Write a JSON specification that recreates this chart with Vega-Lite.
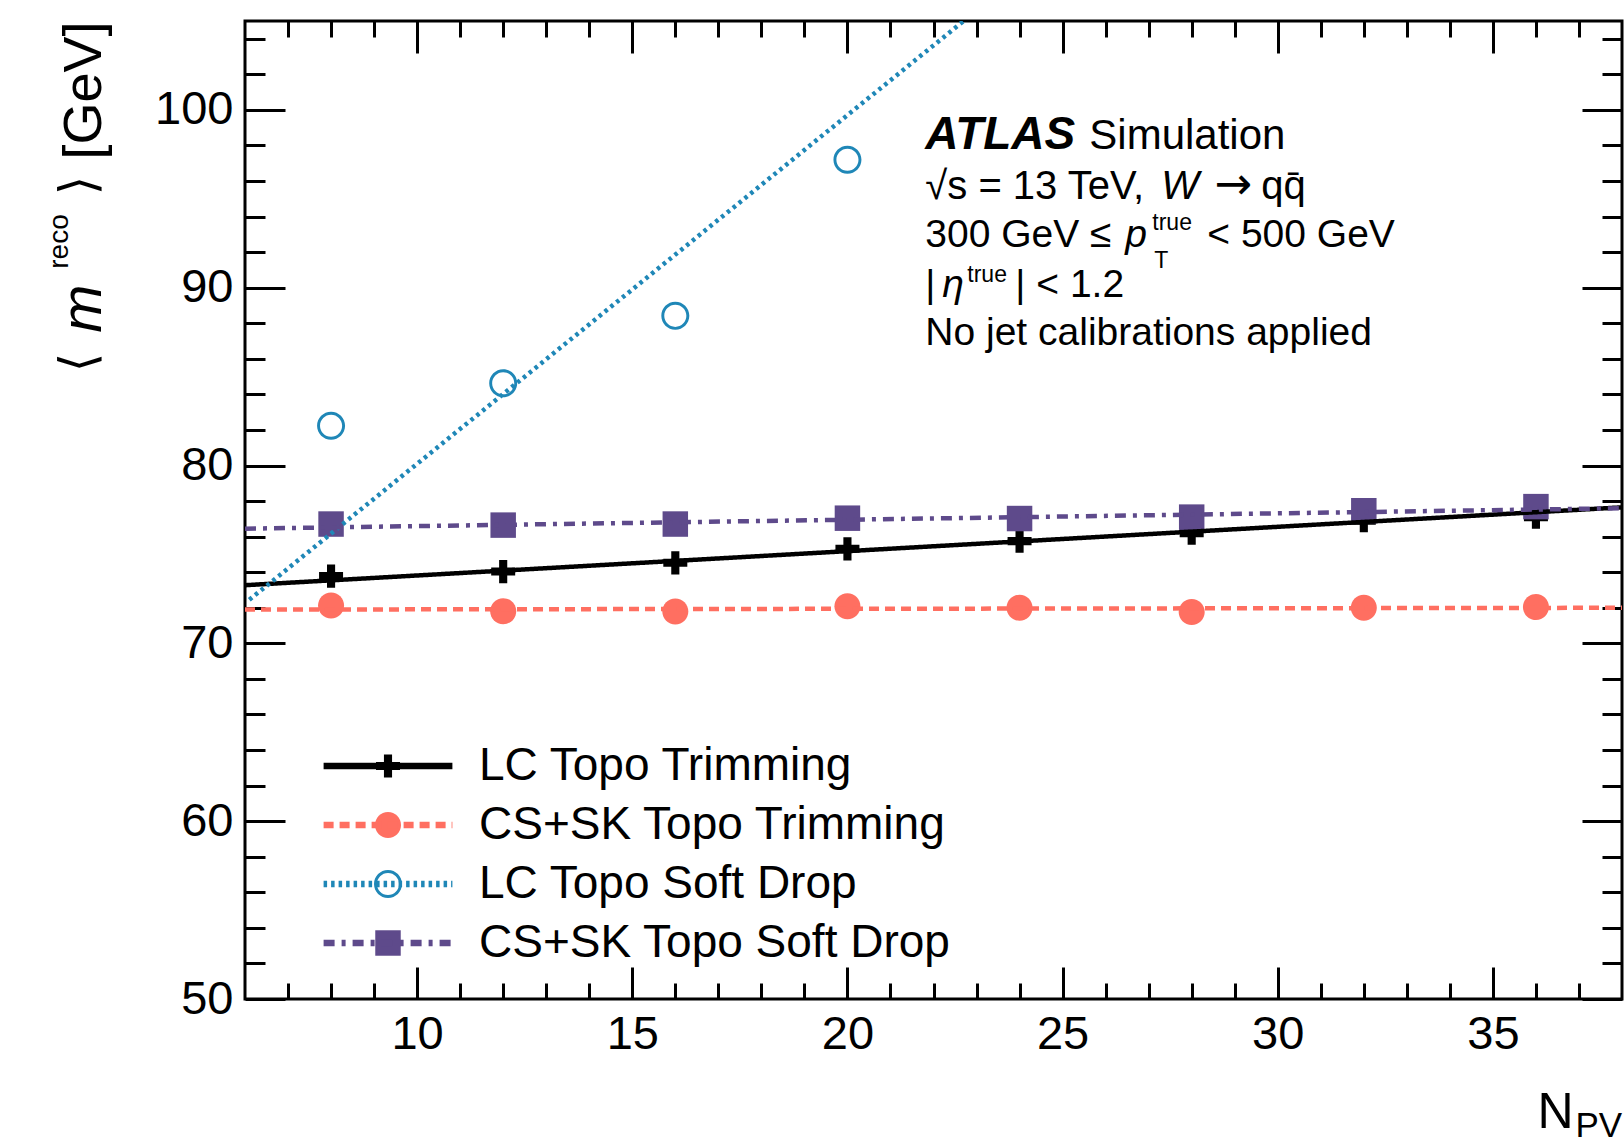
{
  "$schema": "https://vega.github.io/schema/vega-lite/v6.json",
  "width": 1377,
  "height": 978,
  "autosize": {"type": "none"},
  "padding": {"left": 245, "top": 21, "right": 2, "bottom": 143},
  "background": "white",
  "datasets": {
    "points": [
      {"series": "LC Topo Trimming", "npv": 8, "mass": 73.78},
      {"series": "LC Topo Trimming", "npv": 12, "mass": 74.04},
      {"series": "LC Topo Trimming", "npv": 16, "mass": 74.53},
      {"series": "LC Topo Trimming", "npv": 20, "mass": 75.32},
      {"series": "LC Topo Trimming", "npv": 24, "mass": 75.75},
      {"series": "LC Topo Trimming", "npv": 28, "mass": 76.2},
      {"series": "LC Topo Trimming", "npv": 32, "mass": 76.9},
      {"series": "LC Topo Trimming", "npv": 36, "mass": 77.1},
      {"series": "CS+SK Topo Trimming", "npv": 8, "mass": 72.13},
      {"series": "CS+SK Topo Trimming", "npv": 12, "mass": 71.81},
      {"series": "CS+SK Topo Trimming", "npv": 16, "mass": 71.79},
      {"series": "CS+SK Topo Trimming", "npv": 20, "mass": 72.09},
      {"series": "CS+SK Topo Trimming", "npv": 24, "mass": 72.0},
      {"series": "CS+SK Topo Trimming", "npv": 28, "mass": 71.76},
      {"series": "CS+SK Topo Trimming", "npv": 32, "mass": 72.0},
      {"series": "CS+SK Topo Trimming", "npv": 36, "mass": 72.04},
      {"series": "LC Topo Soft Drop", "npv": 8, "mass": 82.24},
      {"series": "LC Topo Soft Drop", "npv": 12, "mass": 84.63},
      {"series": "LC Topo Soft Drop", "npv": 16, "mass": 88.42},
      {"series": "LC Topo Soft Drop", "npv": 20, "mass": 97.2},
      {"series": "CS+SK Topo Soft Drop", "npv": 8, "mass": 76.71},
      {"series": "CS+SK Topo Soft Drop", "npv": 12, "mass": 76.65},
      {"series": "CS+SK Topo Soft Drop", "npv": 16, "mass": 76.71},
      {"series": "CS+SK Topo Soft Drop", "npv": 20, "mass": 77.04},
      {"series": "CS+SK Topo Soft Drop", "npv": 24, "mass": 77.02},
      {"series": "CS+SK Topo Soft Drop", "npv": 28, "mass": 77.1},
      {"series": "CS+SK Topo Soft Drop", "npv": 32, "mass": 77.46},
      {"series": "CS+SK Topo Soft Drop", "npv": 36, "mass": 77.69}
    ],
    "fits": [
      {"series": "LC Topo Trimming", "npv": 6, "mass": 73.27},
      {"series": "LC Topo Trimming", "npv": 38, "mass": 77.65},
      {"series": "CS+SK Topo Trimming", "npv": 6, "mass": 71.9},
      {"series": "CS+SK Topo Trimming", "npv": 38, "mass": 72.0},
      {"series": "LC Topo Soft Drop", "npv": 6.1, "mass": 72.45},
      {"series": "LC Topo Soft Drop", "npv": 22.7, "mass": 105},
      {"series": "CS+SK Topo Soft Drop", "npv": 6, "mass": 76.45},
      {"series": "CS+SK Topo Soft Drop", "npv": 38, "mass": 77.6}
    ]
  },
  "layer": [
    {
      "data": {"name": "points"},
      "mark": {"type": "point", "filled": true, "opacity": 1, "size": 784, "strokeWidth": 0},
      "encoding": {
        "x": {"field": "npv", "type": "quantitative", "scale": {"domain": [6, 38], "nice": false, "zero": false},
          "axis": {"orient": "bottom", "values": [10, 15, 20, 25, 30, 35], "tickSize": -32, "labelPadding": 44, "labelBaseline": "top", "labelAlign": "center",
            "title": "N", "titleFontSize": 50, "titleAngle": 0, "titleAlign": "right", "titleBaseline": "alphabetic", "titleX": 1328, "titleY": 128}},
        "y": {"field": "mass", "type": "quantitative", "scale": {"domain": [50, 105], "nice": false, "zero": false},
          "axis": {"orient": "left", "values": [50, 60, 70, 80, 90, 100], "tickSize": -40, "labelPadding": 52, "labelAlign": "right", "labelBaseline": "middle",
            "title": "[GeV]", "titleFontSize": 54, "titleAngle": -90, "titleAlign": "right", "titleBaseline": "alphabetic", "titleX": -145, "titleY": 0}},
        "fill": {"field": "series", "type": "nominal", "sort": null,
          "scale": {"range": ["#000000", "#ff6f61", "#1f87b7", "#5e4a8b"]},
          "legend": {"orient": "none", "legendX": 120, "legendY": 722, "title": null, "symbolSize": 784, "symbolStrokeWidth": 0, "symbolOpacity": 1,
            "labelExpr": "''", "labelFontSize": 46, "rowPadding": 13, "padding": 0, "labelOffset": 0}},
        "shape": {"field": "series", "type": "nominal", "sort": null,
          "scale": {"range": [
            "M-0.857,-0.29L0.857,-0.29L0.857,0.29L-0.857,0.29Z M-0.29,-0.83L0.29,-0.83L0.29,0.83L-0.29,0.83Z",
            "M0.93,0A0.93,0.93,0,1,1,-0.93,0A0.93,0.93,0,1,1,0.93,0Z",
            "M1,0A1,1,0,1,1,-1,0A1,1,0,1,1,1,0Z M0.79,0A0.79,0.79,0,1,0,-0.79,0A0.79,0.79,0,1,0,0.79,0Z",
            "M-0.91,-0.91L0.91,-0.91L0.91,0.91L-0.91,0.91Z"
          ]}}
      }
    },
    {
      "data": {"name": "fits"},
      "mark": {"type": "line", "strokeWidth": 4.5, "strokeCap": "butt", "clip": true},
      "encoding": {
        "x": {"field": "npv", "type": "quantitative", "scale": {"domain": [6, 38], "nice": false, "zero": false},
          "axis": {"orient": "bottom", "values": [7, 8, 9, 11, 12, 13, 14, 16, 17, 18, 19, 21, 22, 23, 24, 26, 27, 28, 29, 31, 32, 33, 34, 36, 37], "tickSize": -16, "labels": false,
            "title": "PV", "titleFontSize": 35, "titleAngle": 0, "titleAlign": "left", "titleBaseline": "alphabetic", "titleX": 1330, "titleY": 137}},
        "y": {"field": "mass", "type": "quantitative", "scale": {"domain": [50, 105], "nice": false, "zero": false},
          "axis": {"orient": "left", "values": [52, 54, 56, 58, 62, 64, 66, 68, 72, 74, 76, 78, 82, 84, 86, 88, 92, 94, 96, 98, 102, 104], "tickSize": -20, "labels": false,
            "title": "⟩", "titleFont": "DejaVu Sans", "titleFontSize": 50, "titleAngle": -90, "titleAlign": "center", "titleBaseline": "alphabetic", "titleX": -151, "titleY": 164}},
        "stroke": {"field": "series", "type": "nominal", "sort": null,
          "scale": {"range": ["#000000", "#ff6f61", "#1f87b7", "#5e4a8b"]},
          "legend": {"orient": "none", "legendX": 120, "legendY": 722, "title": null, "symbolType": "M-4.6,0L4.6,0", "symbolSize": 784, "symbolStrokeWidth": 6.5,
            "labelFont": "Liberation Sans", "labelFontSize": 46, "labelColor": "black", "labelOffset": 68, "labelLimit": 0, "rowPadding": 13, "padding": 0}},
        "strokeDash": {"field": "series", "type": "nominal", "sort": null,
          "scale": {"range": [[1, 0], [10, 6], [3.5, 4], [11, 7, 4, 7]]}}
      }
    },
    {
      "data": {"values": [{}]},
      "mark": {"type": "text", "text": "ATLAS", "fontSize": 46, "fontWeight": "bold", "fontStyle": "italic", "align": "left", "baseline": "alphabetic", "color": "black"},
      "encoding": {
        "x": {"datum": 21.81, "type": "quantitative", "scale": {"domain": [6, 38], "nice": false, "zero": false},
          "axis": {"orient": "top", "values": [10, 15, 20, 25, 30, 35], "tickSize": -32, "labels": false,
            "title": "⟨", "titleFont": "DejaVu Sans", "titleFontSize": 50, "titleAngle": -90, "titleAlign": "center", "titleBaseline": "alphabetic", "titleX": -151, "titleY": 341}},
        "y": {"datum": 97.8, "type": "quantitative", "scale": {"domain": [50, 105], "nice": false, "zero": false},
          "axis": {"orient": "right", "values": [50, 60, 70, 80, 90, 100], "tickSize": -40, "labels": false,
            "title": "reco", "titleFontSize": 28, "titleAngle": -90, "titleAlign": "center", "titleBaseline": "alphabetic", "titleX": -1555, "titleY": 220}}
      }
    },
    {
      "data": {"values": [{}]},
      "mark": {"type": "text", "text": "Simulation", "fontSize": 42, "align": "left", "baseline": "alphabetic", "dx": 164, "color": "black"},
      "encoding": {
        "x": {"datum": 21.81, "type": "quantitative", "scale": {"domain": [6, 38], "nice": false, "zero": false},
          "axis": {"orient": "top", "values": [7, 8, 9, 11, 12, 13, 14, 16, 17, 18, 19, 21, 22, 23, 24, 26, 27, 28, 29, 31, 32, 33, 34, 36, 37], "tickSize": -16, "labels": false, "title": null}},
        "y": {"datum": 97.8, "type": "quantitative", "scale": {"domain": [50, 105], "nice": false, "zero": false},
          "axis": {"orient": "right", "values": [52, 54, 56, 58, 62, 64, 66, 68, 72, 74, 76, 78, 82, 84, 86, 88, 92, 94, 96, 98, 102, 104], "tickSize": -20, "labels": false,
            "title": "m", "titleFontStyle": "italic", "titleFontSize": 58, "titleAngle": -90, "titleAlign": "center", "titleBaseline": "alphabetic", "titleX": -1522, "titleY": 287}}
      }
    },
    {
      "data": {"values": [{}]},
      "mark": {"type": "text", "text": "√s = 13 TeV,", "fontSize": 40, "align": "left", "baseline": "alphabetic", "color": "black"},
      "encoding": {"x": {"datum": 21.81, "type": "quantitative", "scale": {"domain": [6, 38], "nice": false, "zero": false}, "axis": null},
        "y": {"datum": 94.99, "type": "quantitative", "scale": {"domain": [50, 105], "nice": false, "zero": false}, "axis": null}}
    },
    {
      "data": {"values": [{}]},
      "mark": {"type": "text", "text": "W", "fontSize": 40, "fontStyle": "italic", "align": "left", "baseline": "alphabetic", "dx": 236, "color": "black"},
      "encoding": {"x": {"datum": 21.81, "type": "quantitative", "scale": {"domain": [6, 38], "nice": false, "zero": false}, "axis": null},
        "y": {"datum": 94.99, "type": "quantitative", "scale": {"domain": [50, 105], "nice": false, "zero": false}, "axis": null}}
    },
    {
      "data": {"values": [{}]},
      "mark": {"type": "text", "text": "→", "font": "DejaVu Sans", "fontSize": 45, "align": "left", "baseline": "alphabetic", "dx": 289, "color": "black"},
      "encoding": {"x": {"datum": 21.81, "type": "quantitative", "scale": {"domain": [6, 38], "nice": false, "zero": false}, "axis": null},
        "y": {"datum": 94.99, "type": "quantitative", "scale": {"domain": [50, 105], "nice": false, "zero": false}, "axis": null}}
    },
    {
      "data": {"values": [{}]},
      "mark": {"type": "text", "text": "qq̄", "fontSize": 40, "align": "left", "baseline": "alphabetic", "dx": 336, "color": "black"},
      "encoding": {"x": {"datum": 21.81, "type": "quantitative", "scale": {"domain": [6, 38], "nice": false, "zero": false}, "axis": null},
        "y": {"datum": 94.99, "type": "quantitative", "scale": {"domain": [50, 105], "nice": false, "zero": false}, "axis": null}}
    },
    {
      "data": {"values": [{}]},
      "mark": {"type": "text", "text": "300 GeV ≤", "fontSize": 39, "align": "left", "baseline": "alphabetic", "color": "black"},
      "encoding": {"x": {"datum": 21.81, "type": "quantitative", "scale": {"domain": [6, 38], "nice": false, "zero": false}, "axis": null},
        "y": {"datum": 92.29, "type": "quantitative", "scale": {"domain": [50, 105], "nice": false, "zero": false}, "axis": null}}
    },
    {
      "data": {"values": [{}]},
      "mark": {"type": "text", "text": "p", "fontSize": 39, "fontStyle": "italic", "align": "left", "baseline": "alphabetic", "dx": 200, "color": "black"},
      "encoding": {"x": {"datum": 21.81, "type": "quantitative", "scale": {"domain": [6, 38], "nice": false, "zero": false}, "axis": null},
        "y": {"datum": 92.29, "type": "quantitative", "scale": {"domain": [50, 105], "nice": false, "zero": false}, "axis": null}}
    },
    {
      "data": {"values": [{}]},
      "mark": {"type": "text", "text": "true", "fontSize": 23, "align": "left", "baseline": "alphabetic", "dx": 227, "dy": -17, "color": "black"},
      "encoding": {"x": {"datum": 21.81, "type": "quantitative", "scale": {"domain": [6, 38], "nice": false, "zero": false}, "axis": null},
        "y": {"datum": 92.29, "type": "quantitative", "scale": {"domain": [50, 105], "nice": false, "zero": false}, "axis": null}}
    },
    {
      "data": {"values": [{}]},
      "mark": {"type": "text", "text": "T", "fontSize": 23, "align": "left", "baseline": "alphabetic", "dx": 229, "dy": 21, "color": "black"},
      "encoding": {"x": {"datum": 21.81, "type": "quantitative", "scale": {"domain": [6, 38], "nice": false, "zero": false}, "axis": null},
        "y": {"datum": 92.29, "type": "quantitative", "scale": {"domain": [50, 105], "nice": false, "zero": false}, "axis": null}}
    },
    {
      "data": {"values": [{}]},
      "mark": {"type": "text", "text": "< 500 GeV", "fontSize": 39, "align": "left", "baseline": "alphabetic", "dx": 282, "color": "black"},
      "encoding": {"x": {"datum": 21.81, "type": "quantitative", "scale": {"domain": [6, 38], "nice": false, "zero": false}, "axis": null},
        "y": {"datum": 92.29, "type": "quantitative", "scale": {"domain": [50, 105], "nice": false, "zero": false}, "axis": null}}
    },
    {
      "data": {"values": [{}]},
      "mark": {"type": "text", "text": "|", "fontSize": 39, "align": "left", "baseline": "alphabetic", "color": "black"},
      "encoding": {"x": {"datum": 21.81, "type": "quantitative", "scale": {"domain": [6, 38], "nice": false, "zero": false}, "axis": null},
        "y": {"datum": 89.48, "type": "quantitative", "scale": {"domain": [50, 105], "nice": false, "zero": false}, "axis": null}}
    },
    {
      "data": {"values": [{}]},
      "mark": {"type": "text", "text": "η", "fontSize": 39, "fontStyle": "italic", "align": "left", "baseline": "alphabetic", "dx": 17, "color": "black"},
      "encoding": {"x": {"datum": 21.81, "type": "quantitative", "scale": {"domain": [6, 38], "nice": false, "zero": false}, "axis": null},
        "y": {"datum": 89.48, "type": "quantitative", "scale": {"domain": [50, 105], "nice": false, "zero": false}, "axis": null}}
    },
    {
      "data": {"values": [{}]},
      "mark": {"type": "text", "text": "true", "fontSize": 23, "align": "left", "baseline": "alphabetic", "dx": 42, "dy": -15, "color": "black"},
      "encoding": {"x": {"datum": 21.81, "type": "quantitative", "scale": {"domain": [6, 38], "nice": false, "zero": false}, "axis": null},
        "y": {"datum": 89.48, "type": "quantitative", "scale": {"domain": [50, 105], "nice": false, "zero": false}, "axis": null}}
    },
    {
      "data": {"values": [{}]},
      "mark": {"type": "text", "text": "| < 1.2", "fontSize": 39, "align": "left", "baseline": "alphabetic", "dx": 90, "color": "black"},
      "encoding": {"x": {"datum": 21.81, "type": "quantitative", "scale": {"domain": [6, 38], "nice": false, "zero": false}, "axis": null},
        "y": {"datum": 89.48, "type": "quantitative", "scale": {"domain": [50, 105], "nice": false, "zero": false}, "axis": null}}
    },
    {
      "data": {"values": [{}]},
      "mark": {"type": "text", "text": "No jet calibrations applied", "fontSize": 39, "align": "left", "baseline": "alphabetic", "color": "black"},
      "encoding": {"x": {"datum": 21.81, "type": "quantitative", "scale": {"domain": [6, 38], "nice": false, "zero": false}, "axis": null},
        "y": {"datum": 86.78, "type": "quantitative", "scale": {"domain": [50, 105], "nice": false, "zero": false}, "axis": null}}
    }
  ],
  "resolve": {"axis": {"x": "independent", "y": "independent"}},
  "config": {
    "view": {"stroke": "black", "strokeWidth": 3},
    "font": "Liberation Sans",
    "text": {"font": "Liberation Sans"},
    "axis": {
      "grid": false, "domain": false,
      "labelFont": "Liberation Sans", "labelFontSize": 47, "labelColor": "black",
      "labelFlush": false, "labelOverlap": false, "labelBound": false,
      "tickColor": "black", "tickWidth": 3,
      "titleFont": "Liberation Sans", "titleColor": "black", "titleFontWeight": "normal"
    },
    "legend": {"labelFont": "Liberation Sans", "labelColor": "black"}
  }
}
